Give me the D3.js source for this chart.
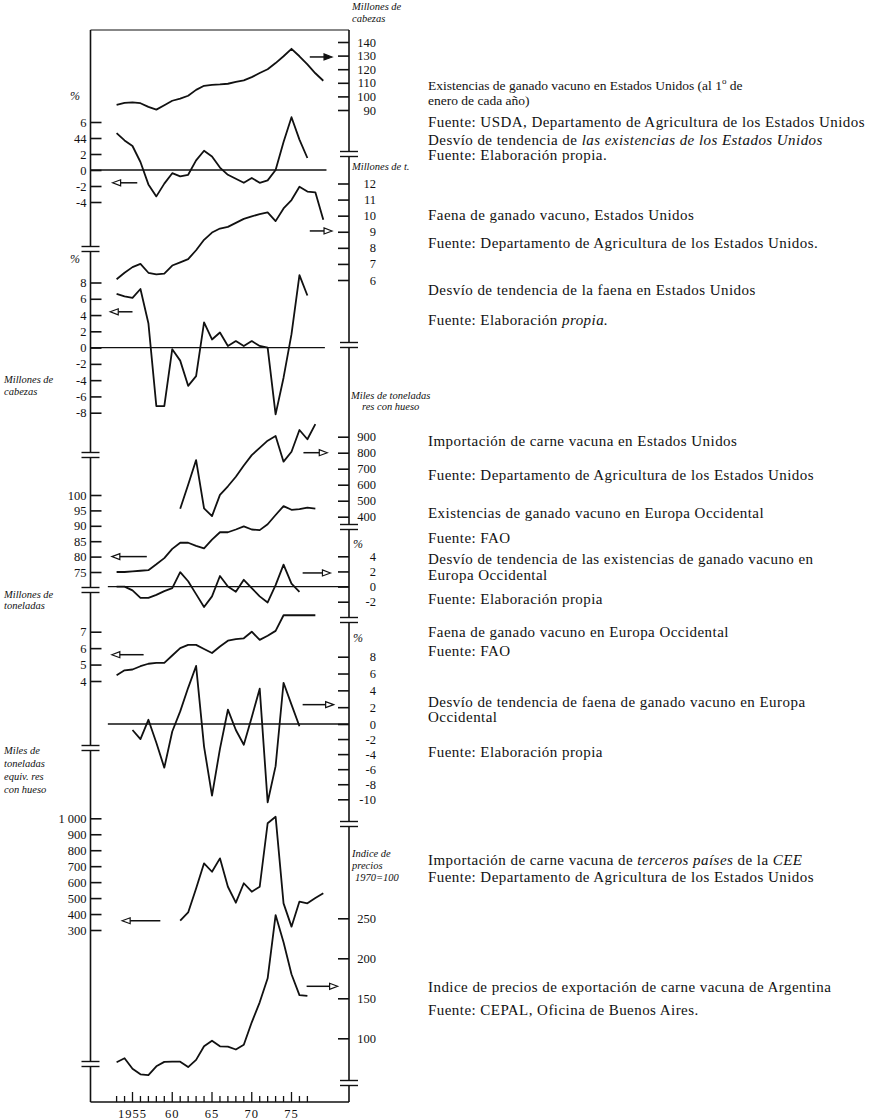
<!DOCTYPE html>
<html lang="es">
<head>
<meta charset="UTF-8">
<title>Ganado vacuno: existencias, faena, importaciones y precios</title>
<script src="https://d3js.org/d3.v7.min.js"></script>
<style>
    body { margin: 0; background: #fff; }
    svg text { font-family: "Liberation Serif", "Times New Roman", serif; fill: #111; }
    .tick text { font-size: 12.5px; }
    .tick line { stroke: #111; stroke-width: 1.6; }
    .unit { font-style: italic; font-size: 10.5px; }
    .note { font-size: 15px; letter-spacing: 0.45px; }
    .note.small { font-size: 13.5px; letter-spacing: 0; }
    .series { fill: none; stroke: #111; stroke-width: 1.8; stroke-linejoin: round; }
    .frame { stroke: #111; stroke-width: 1.6; fill: none; }
</style>
</head>
<body>
<svg width="869" height="1120"></svg>
<script>
// years shared by all series
const yearList = [1953, 1954, 1955, 1956, 1957, 1958, 1959, 1960, 1961, 1962, 1963, 1964, 1965,
    1966, 1967, 1968, 1969, 1970, 1971, 1972, 1973, 1974, 1975, 1976, 1977, 1978, 1979];

// millones de cabezas, 1953-1979
const usStock = [93.8, 95.3, 95.6, 95.0, 92.3, 90.3, 93.5, 96.8, 98.3, 100.5, 104.8, 107.8, 108.5,
    108.8, 109.3, 110.6, 111.8, 114.2, 117.2, 120.0, 124.5, 129.5, 135.0, 129.5, 123.5, 117.0, 111.5];
// %, 1953-1977
const usStockDev = [4.6, 3.7, 3.0, 1.0, -1.8, -3.3, -1.7, -0.4, -0.8, -0.6, 1.2, 2.4, 1.7,
    0.3, -0.6, -1.1, -1.6, -1.0, -1.6, -1.3, 0.0, 3.5, 6.6, 3.8, 1.5];
// millones de t, 1953-1979
const usSlaughter = [6.05, 6.45, 6.8, 7.0, 6.45, 6.35, 6.4, 6.9, 7.1, 7.3, 7.85, 8.5, 8.95,
    9.2, 9.3, 9.55, 9.8, 9.95, 10.1, 10.2, 9.66, 10.45, 10.97, 11.8, 11.5, 11.45, 9.75];
// %, 1953-1977
const usSlaughterDev = [6.6, 6.3, 6.1, 7.2, 3.0, -7.2, -7.2, -0.2, -1.6, -4.7, -3.5, 3.1, 1.0,
    1.85, 0.2, 0.8, 0.2, 0.8, 0.2, 0.0, -8.2, -3.7, 1.65, 8.9, 6.4];
// miles de t, 1961-1978
const usImports = [450, 600, 754, 452, 404, 536, 590, 650, 720, 785, 830, 875, 904,
    744, 806, 942, 884, 979];
// millones de cabezas, 1953-1978
const euStock = [75.0, 75.0, 75.2, 75.4, 75.6, 77.5, 79.5, 82.5, 84.5, 84.5, 83.5, 82.7, 85.5,
    87.9, 87.9, 88.8, 89.8, 88.8, 88.6, 90.5, 93.5, 96.4, 95.2, 95.4, 95.9, 95.6];
// %, 1953-1976
const euStockDev = [0.0, 0.0, -0.5, -1.5, -1.5, -1.1, -0.6, -0.2, 1.9, 0.7, -1.0, -2.7, -1.3,
    1.4, 0.0, -0.7, 0.9, -0.2, -1.3, -2.1, 0.2, 2.9, 0.4, -0.7];
// millones de t, 1953-1978
const euSlaughter = [4.35, 4.65, 4.7, 4.9, 5.05, 5.1, 5.1, 5.55, 6.0, 6.2, 6.2, 5.95, 5.7,
    6.1, 6.45, 6.55, 6.6, 7.0, 6.5, 6.75, 7.05, 8.0, 8.0, 8.0, 8.0, 8.0];
// %, 1955-1976
const euSlaughterDev = [-0.8, -2.0, 0.5, -2.5, -5.8, -1.0, 1.5, 4.3, 6.9, -3.0, -9.5,
    -3.3, 1.7, -0.8, -2.75, 0.8, 4.2, -10.4, -5.6, 4.9, 2.3, -0.3];
// miles de t, 1961-1979
const eecImports = [358, 410, 560, 718, 665, 749, 571, 471, 593, 540, 571, 969, 1010,
    467, 321, 478, 467, 500, 530];
// 1970 = 100, 1953-1977
const argPrice = [70, 75, 62, 55, 54, 65, 70.5, 70.8, 70.8, 64, 73, 90, 97,
    90, 89.5, 86, 92, 120, 145, 175, 254, 220, 180, 154, 153];

// tick values
const usStockTicks = [90, 100, 110, 120, 130, 140];
const usStockDevTicks = [-4, -2, 0, 2, 4, 6];
const usStockDevLabels = ["-4", "-2", "0", "2", "44", "6"];
const usSlaughterTicks = [6, 7, 8, 9, 10, 11, 12];
const usSlaughterDevTicks = [-8, -6, -4, -2, 0, 2, 4, 6, 8];
const usImportTicks = [400, 500, 600, 700, 800, 900];
const euStockTicks = [75, 80, 85, 90, 95, 100];
const euStockDevTicks = [-2, 0, 2, 4];
const euSlaughterTicks = [4, 5, 6, 7];
const euSlaughterDevTicks = [-10, -8, -6, -4, -2, 0, 2, 4, 6, 8];
const eecImportTicks = [300, 400, 500, 600, 700, 800, 900, 1000];
const argPriceTicks = [100, 150, 200, 250];
const xTickYears = [1953, 1954, 1955, 1956, 1957, 1958, 1959, 1960, 1961, 1962, 1963, 1964, 1965,
    1966, 1967, 1968, 1969, 1970, 1971, 1972, 1973, 1974, 1975, 1976, 1977];
const xLabelYears = [1955, 1960, 1965, 1970, 1975];
const xLabels = ["1955", "60", "65", "70", "75"];

const svg = d3.select("svg");
const leftX = 90.5, rightX = 349, topY = 30, bottomY = 1102;

const x = d3.scaleLinear().domain([1955, 1975]).range([132.5, 291.5]);

function series(values, startYear) {
    const i0 = yearList.indexOf(startYear);
    return values.map((v, i) => ({ year: yearList[i0 + i], value: v }));
}

const panels = [
    { side: "right", y: d3.scaleLinear().domain([90, 140]).range([110, 42]), ticks: usStockTicks, data: series(usStock, 1953) },
    { side: "left", y: d3.scaleLinear().domain([-4, 6]).range([202, 122]), ticks: usStockDevTicks, labels: usStockDevLabels, data: series(usStockDev, 1953), zero: [leftX, x(1979.4)] },
    { side: "right", y: d3.scaleLinear().domain([6, 12]).range([280, 183.5]), ticks: usSlaughterTicks, data: series(usSlaughter, 1953) },
    { side: "left", y: d3.scaleLinear().domain([-8, 8]).range([412.7, 282.5]), ticks: usSlaughterDevTicks, data: series(usSlaughterDev, 1953), zero: [leftX, x(1979.2)] },
    { side: "right", y: d3.scaleLinear().domain([400, 900]).range([516.7, 436.7]), ticks: usImportTicks, data: series(usImports, 1961) },
    { side: "left", y: d3.scaleLinear().domain([75, 100]).range([572, 495]), ticks: euStockTicks, data: series(euStock, 1953) },
    { side: "right", y: d3.scaleLinear().domain([-2, 4]).range([601.7, 556.3]), ticks: euStockDevTicks, data: series(euStockDev, 1953), zero: [x(1951.9), rightX] },
    { side: "left", y: d3.scaleLinear().domain([4, 7]).range([681, 631.7]), ticks: euSlaughterTicks, data: series(euSlaughter, 1953) },
    { side: "right", y: d3.scaleLinear().domain([-10, 0, 8]).range([799.3, 724, 656.7]), ticks: euSlaughterDevTicks, data: series(euSlaughterDev, 1955), zero: [x(1951.9), rightX] },
    { side: "left", y: d3.scaleLinear().domain([300, 1000]).range([930, 818.3]), ticks: eecImportTicks, data: series(eecImports, 1961), fmt: d => d === 1000 ? "1 000" : d },
    { side: "right", y: d3.scaleLinear().domain([100, 250]).range([1038.3, 918.3]), ticks: argPriceTicks, data: series(argPrice, 1953) }
];

// frame: left, right, bottom and top lines
svg.append("line").attr("class", "frame").attr("x1", leftX).attr("x2", leftX).attr("y1", topY).attr("y2", bottomY);
svg.append("line").attr("class", "frame").attr("x1", rightX).attr("x2", rightX).attr("y1", topY).attr("y2", bottomY);
svg.append("line").attr("class", "frame").attr("x1", leftX).attr("x2", rightX).attr("y1", bottomY).attr("y2", bottomY);
svg.append("line").attr("class", "frame").attr("x1", leftX).attr("x2", rightX).attr("y1", topY).attr("y2", topY).style("stroke-width", 1.2);

const line = d3.line().x(d => x(d.year));

panels.forEach(p => {
    const axis = p.side === "left" ? d3.axisLeft(p.y).tickSize(-11).tickPadding(4)
                                   : d3.axisRight(p.y).tickSize(-11).tickPadding(4);
    axis.tickValues(p.ticks).tickFormat((d, i) => p.labels ? p.labels[i] : (p.fmt ? p.fmt(d) : d));
    const g = svg.append("g")
        .attr("transform", `translate(${p.side === "left" ? leftX : rightX},0)`)
        .call(axis);
    g.select(".domain").remove();
    if (p.side === "right") {
        g.selectAll(".tick text").attr("text-anchor", "end").attr("x", 27);
    }

    if (p.zero) {
        svg.append("line").attr("class", "frame").style("stroke-width", 1.3)
            .attr("x1", p.zero[0]).attr("x2", p.zero[1])
            .attr("y1", p.y(0)).attr("y2", p.y(0));
    }

    svg.append("path")
        .attr("class", "series")
        .attr("d", line.y(d => p.y(d.value))(p.data));
});

// axis breaks
const leftBreaks = [249, 455, 590, 748, 1064];
const rightBreaks = [154, 345, 527, 620, 824, 1083];
function drawBreak(cx, cy) {
    svg.append("rect").attr("x", cx - 3).attr("y", cy - 2).attr("width", 6).attr("height", 4).attr("fill", "#fff");
    [-2.5, 2.5].forEach(dy => {
        svg.append("line").attr("class", "frame").style("stroke-width", 1.4)
            .attr("x1", cx - 9).attr("x2", cx + 9)
            .attr("y1", cy + dy).attr("y2", cy + dy);
    });
}
leftBreaks.forEach(b => drawBreak(leftX, b));
rightBreaks.forEach(b => drawBreak(rightX, b));

// x axis
svg.append("g").selectAll("line")
    .data(xTickYears).join("line")
    .attr("x1", d => x(d)).attr("x2", d => x(d))
    .attr("y1", bottomY).attr("y2", d => bottomY - (d % 5 === 0 ? 10 : 6))
    .attr("stroke", "#111").attr("stroke-width", 1.3);
svg.append("g").selectAll("text")
    .data(xLabelYears).join("text")
    .attr("x", d => x(d)).attr("y", bottomY + 16)
    .attr("text-anchor", "middle")
    .style("font-size", "12.5px").style("letter-spacing", "1px")
    .text((d, i) => xLabels[i]);

// arrows pointing at the axis that each curve uses
const arrows = [
    { p: 0, v: 129, from: 1977.3, to: 1980.1, filled: true },
    { p: 1, v: -1.6, from: 1955.6, to: 1952.5 },
    { p: 2, v: 9.05, from: 1977.3, to: 1980.1 },
    { p: 3, v: 4.4, from: 1955.0, to: 1952.2 },
    { p: 4, v: 800, from: 1976.5, to: 1979.5 },
    { p: 5, v: 80, from: 1956.8, to: 1952.4 },
    { p: 6, v: 1.8, from: 1976.4, to: 1979.9 },
    { p: 7, v: 5.6, from: 1956.4, to: 1952.4 },
    { p: 8, v: 2.3, from: 1976.4, to: 1980.3 },
    { p: 9, v: 358, from: 1958.5, to: 1953.7 },
    { p: 10, v: 165, from: 1976.9, to: 1980.8 }
];
arrows.forEach(a => {
    const yy = panels[a.p].y(a.v);
    const x1 = x(a.from), x2 = x(a.to);
    const dir = x2 > x1 ? 1 : -1;
    svg.append("line").attr("x1", x1).attr("x2", x2 - dir * 6).attr("y1", yy).attr("y2", yy)
        .attr("stroke", "#111").attr("stroke-width", 1.5);
    svg.append("path")
        .attr("d", `M${x2},${yy} L${x2 - dir * 8},${yy - 3} L${x2 - dir * 8},${yy + 3} Z`)
        .attr("fill", a.filled ? "#111" : "#fff").attr("stroke", "#111").attr("stroke-width", 1.2);
});

// unit labels next to the axes
const units = [
    ["Millones de", 352, 10], ["cabezas", 352, 22],
    ["Millones de t.", 352, 170],
    ["Miles de toneladas", 351, 399], ["res con hueso", 362, 410],
    ["Millones de", 4, 383], ["cabezas", 4, 395],
    ["Millones de", 4, 598], ["toneladas", 4, 609],
    ["Miles de", 4, 754], ["toneladas", 4, 767], ["equiv. res", 4, 780], ["con hueso", 4, 793],
    ["Indice de", 352, 857], ["precios", 352, 869], ["1970=100", 355, 881]
];
svg.append("g").selectAll("text").data(units).join("text")
    .attr("class", "unit").attr("x", d => d[1]).attr("y", d => d[2]).text(d => d[0]);

const percents = [[70, 100], [70, 263], [353, 548], [353, 642]];
svg.append("g").selectAll("text").data(percents).join("text")
    .attr("x", d => d[0]).attr("y", d => d[1]).style("font-size", "12px").style("font-style", "italic").text("%");

// notes on the right
const notes = [
    [90, [["Existencias de ganado vacuno en Estados Unidos (al 1"], ["o", "sup"], [" de", "after"]], "small"],
    [105, [["enero de cada año)"]], "small"],
    [127, [["Fuente: USDA, Departamento de Agricultura de los Estados Unidos"]]],
    [145, [["Desvío de tendencia de "], ["las existencias de los Estados  Unidos", "i"]]],
    [160, [["Fuente: Elaboración propia."]]],
    [219.5, [["Faena de ganado vacuno, Estados Unidos"]]],
    [247.5, [["Fuente: Departamento de Agricultura de los Estados Unidos."]]],
    [294.5, [["Desvío de tendencia de la faena en Estados Unidos"]]],
    [324.5, [["Fuente: Elaboración "], ["propia.", "i"]]],
    [446, [["Importación de carne vacuna en Estados Unidos"]]],
    [479.5, [["Fuente: Departamento de Agricultura de los Estados Unidos"]]],
    [517.5, [["Existencias de ganado vacuno en Europa Occidental"]]],
    [542.5, [["Fuente: FAO"]]],
    [563.5, [["Desvío de tendencia de las existencias de ganado vacuno en"]]],
    [579.5, [["Europa Occidental"]]],
    [603.5, [["Fuente: Elaboración propia"]]],
    [636.5, [["Faena de ganado vacuno en Europa Occidental"]]],
    [655.5, [["Fuente: FAO"]]],
    [706.5, [["Desvío de tendencia de faena de ganado vacuno en Europa"]]],
    [721.5, [["Occidental"]]],
    [757, [["Fuente: Elaboración propia"]]],
    [864.5, [["Importación de carne vacuna de "], ["terceros países", "i"], [" de la "], ["CEE", "i"]]],
    [882, [["Fuente: Departamento de Agricultura de los Estados Unidos"]]],
    [991.5, [["Indice de precios de exportación de carne vacuna de Argentina"]]],
    [1014.5, [["Fuente: CEPAL, Oficina de Buenos Aires."]]]
];
notes.forEach(n => {
    const t = svg.append("text").attr("class", n[2] ? "note " + n[2] : "note").attr("x", 428).attr("y", n[0]);
    n[1].forEach(s => {
        const ts = t.append("tspan").text(s[0]);
        if (s[1] === "i") ts.style("font-style", "italic");
        if (s[1] === "sup") ts.attr("dy", -6).style("font-size", "9px");
        if (s[1] === "after") ts.attr("dy", 6);
    });
});
</script>
</body>
</html>
